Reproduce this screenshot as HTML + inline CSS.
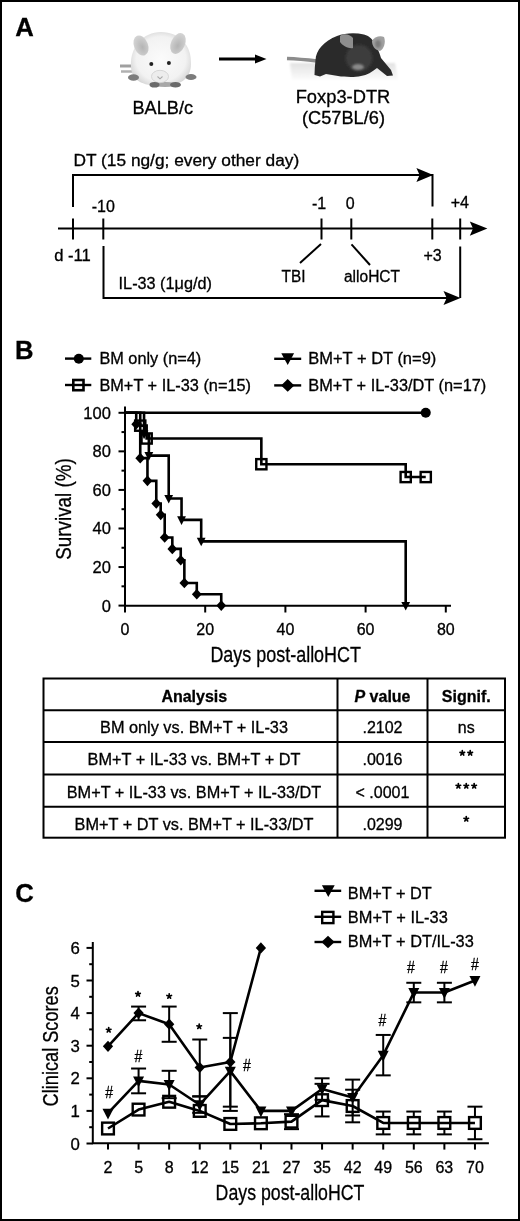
<!DOCTYPE html><html><head><meta charset="utf-8"><style>text{stroke:#000;stroke-width:0.3px;}html,body{margin:0;padding:0;background:#fff;}svg{display:block;filter:grayscale(1);}</style></head><body>
<svg width="520" height="1221" viewBox="0 0 520 1221" font-family='"Liberation Sans", sans-serif' fill="#000" stroke="#000">
<rect x="0" y="0" width="520" height="1221" fill="#fff" stroke="none"/>
<g stroke="none">
</g>
<g stroke-linecap="butt">
<text transform="translate(15.2 35.6) scale(0.97 1)" font-size="26.5" font-weight="bold">A</text>
<defs>
<filter id="bl1" x="-20%" y="-20%" width="140%" height="140%"><feGaussianBlur stdDeviation="1.0"/></filter>
<filter id="bl2" x="-20%" y="-20%" width="140%" height="140%"><feGaussianBlur stdDeviation="0.7"/></filter>
<radialGradient id="wm" cx="0.5" cy="0.5" r="0.55"><stop offset="0" stop-color="#fbfbfb"/><stop offset="0.75" stop-color="#f2f2f2"/><stop offset="1" stop-color="#d6d6d6"/></radialGradient>
<radialGradient id="ear" cx="0.55" cy="0.6" r="0.6"><stop offset="0" stop-color="#b4b4b4"/><stop offset="1" stop-color="#d4d4d4"/></radialGradient>
<linearGradient id="gnd" x1="0" y1="0" x2="0" y2="1"><stop offset="0" stop-color="#e2e2e2"/><stop offset="1" stop-color="#fcfcfc"/></linearGradient>
</defs>
<g stroke="none" filter="url(#bl2)">
<path d="M120,66 L133,66" stroke="#a0a0a0" stroke-width="3"/>
<path d="M121,71.5 L133,71.5" stroke="#b0b0b0" stroke-width="2.5"/>
<path d="M131,66 C130,47 143,32 161,32 C180,32 192,46 191,64 C191,79 180,86 161,86 C142,86 131,80 131,66 Z" fill="url(#wm)"/>
<ellipse cx="141" cy="45.5" rx="7" ry="10.5" transform="rotate(-22 141 45.5)" fill="url(#ear)"/>
<ellipse cx="178" cy="43.5" rx="7" ry="11" transform="rotate(24 178 43.5)" fill="url(#ear)"/>
<ellipse cx="165" cy="84.5" rx="13" ry="2.6" fill="#a8a8a8"/>
<ellipse cx="160" cy="76.5" rx="8.5" ry="6.2" fill="#ededed" stroke="#cfcfcf" stroke-width="0.8"/>
<path d="M157.5,76.5 L160,78.8 L162.5,76.5" stroke="#aaa" stroke-width="1.1" fill="none"/>
<circle cx="151.3" cy="64" r="2" fill="#222"/>
<circle cx="168.9" cy="63" r="2" fill="#222"/>
<ellipse cx="133.5" cy="77.5" rx="5.5" ry="3.3" fill="#7c7c7c"/>
<ellipse cx="191" cy="77" rx="5.5" ry="3" fill="#7c7c7c"/>
<ellipse cx="154.5" cy="84.8" rx="5" ry="2.8" fill="#6a6a6a"/>
<ellipse cx="175.5" cy="84.8" rx="5.5" ry="2.8" fill="#6a6a6a"/>
</g>
<path d="M219,59 L257,59" stroke-width="3"/>
<path d="M266.5,59 L255,54.5 L255,63.5 Z" fill="#000" stroke="none"/>
<g stroke="none" filter="url(#bl2)">
<path d="M290,63 L395,63 L398,80 L292,80 Z" fill="url(#gnd)" filter="url(#bl1)"/>
<path d="M287,58.5 Q300,59 317,61" stroke="#8c8c8c" stroke-width="3.4" fill="none"/>
<path d="M315.5,60 C316,50 324,41 337,36 C345,33 355,32.5 364,34.5 C370,36 373,40 376,46 C379,51 380,55 381,58 L391,70 L393,75.5 L387,76 L377,68 C372,72 367,75 361,76 C354,77.5 345,77 338,76 L326,74 L320,76.5 L314.5,75 C314.5,70 315,65 315.5,60 Z" fill="#2c2c2c"/>
<ellipse cx="359" cy="58" rx="13" ry="13" fill="#3d3d3d" filter="url(#bl1)"/>
<ellipse cx="358" cy="67" rx="6" ry="3" fill="#8a8a8a" filter="url(#bl1)"/>
<path d="M340,36 C343,33 350,34 353,38 L353,48 C349,49 343,46 340,42 Z" fill="#8e8e8e"/>
<path d="M372,41 C374,37 380,35 384,37 C386,42 384,49 380,51 C375,50 372,46 372,41 Z" fill="#a0a0a0"/>
<ellipse cx="378" cy="44" rx="3" ry="4" fill="#7a7a7a" filter="url(#bl1)"/>
</g>
<text x="132.5" y="113.8" font-size="18" textLength="60.6" lengthAdjust="spacingAndGlyphs">BALB/c</text>
<text x="295.7" y="103.1" font-size="18" textLength="94.6" lengthAdjust="spacingAndGlyphs">Foxp3-DTR</text>
<text x="302" y="123.9" font-size="18" textLength="83" lengthAdjust="spacingAndGlyphs">(C57BL/6)</text>
<text x="73.5" y="165.8" font-size="16" textLength="225.7" lengthAdjust="spacingAndGlyphs">DT (15 ng/g; every other day)</text>
<path d="M73,207 V175 H432.5 V206.5" stroke-width="2" fill="none"/>
<path d="M433.2,175 L416.4,168.0 L419.59999999999997,175 L416.4,182.0 Z" fill="#000" stroke="none"/>
<path d="M58,228.6 H478" stroke-width="2" fill="none"/>
<path d="M487.4,228.6 L469.79999999999995,221.5 L472.99999999999994,228.6 L469.79999999999995,235.7 Z" fill="#000" stroke="none"/>
<line x1="73" y1="218.5" x2="73" y2="239.5" stroke-width="2"/>
<line x1="103.3" y1="218.5" x2="103.3" y2="239.5" stroke-width="2"/>
<line x1="321.5" y1="218.5" x2="321.5" y2="239.5" stroke-width="2"/>
<line x1="351.3" y1="218.5" x2="351.3" y2="239.5" stroke-width="2"/>
<line x1="432.3" y1="218.5" x2="432.3" y2="239.5" stroke-width="2"/>
<line x1="460.2" y1="218.5" x2="460.2" y2="239.5" stroke-width="2"/>
<text x="103.3" y="211.5" font-size="16" text-anchor="middle">-10</text>
<text x="319" y="208.5" font-size="16" text-anchor="middle">-1</text>
<text x="350.2" y="208.5" font-size="16" text-anchor="middle">0</text>
<text x="459.8" y="207.6" font-size="16" text-anchor="middle">+4</text>
<text x="54.2" y="261.3" font-size="16" textLength="36.6" lengthAdjust="spacingAndGlyphs">d -11</text>
<text x="432.5" y="261.2" font-size="16" text-anchor="middle">+3</text>
<line x1="321" y1="244" x2="300" y2="263" stroke-width="2"/>
<line x1="351.5" y1="244.4" x2="370" y2="265" stroke-width="2"/>
<text x="281.5" y="282.3" font-size="16" textLength="23.9" lengthAdjust="spacingAndGlyphs">TBI</text>
<text x="344" y="282" font-size="16" textLength="56" lengthAdjust="spacingAndGlyphs">alloHCT</text>
<path d="M103.5,246 V298 H452" stroke-width="2" fill="none"/>
<line x1="460.2" y1="246.5" x2="460.2" y2="298" stroke-width="2"/>
<path d="M460.5,298 L443.5,291 L446.7,298 L443.5,305 Z" fill="#000" stroke="none"/>
<text x="118.6" y="288.7" font-size="16" textLength="93.3" lengthAdjust="spacingAndGlyphs">IL-33 (1&#956;g/d)</text>
<text transform="translate(15.1 358.8) scale(0.97 1)" font-size="26.5" font-weight="bold">B</text>
<line x1="65" y1="358.6" x2="91.3" y2="358.6" stroke-width="2.4"/>
<circle cx="78.80" cy="358.80" r="5.00" fill="#000" stroke="none"/>
<text x="99.4" y="364.2" font-size="16" textLength="101.8" lengthAdjust="spacingAndGlyphs">BM only (n=4)</text>
<line x1="65" y1="385" x2="91.3" y2="385" stroke-width="2.4"/>
<rect x="73.30" y="380.00" width="10.20" height="10.20" fill="none" stroke-width="2.6"/>
<text x="99.4" y="390.5" font-size="16" textLength="151.6" lengthAdjust="spacingAndGlyphs">BM+T + IL-33 (n=15)</text>
<line x1="274.2" y1="358.8" x2="301.2" y2="358.8" stroke-width="2.4"/>
<path d="M281.30,353.20 L294.10,353.20 L287.70,365.00 Z" fill="#000" stroke="none"/>
<text x="308.3" y="364.2" font-size="16.2" textLength="128" lengthAdjust="spacingAndGlyphs">BM+T + DT (n=9)</text>
<line x1="274.2" y1="385.4" x2="301.2" y2="385.4" stroke-width="2.4"/>
<path d="M287.70,379.10 L294.30,385.40 L287.70,391.70 L281.10,385.40 Z" fill="#000" stroke="none"/>
<text x="308.3" y="390.5" font-size="16.2" textLength="178" lengthAdjust="spacingAndGlyphs">BM+T + IL-33/DT (n=17)</text>
<path d="M125,406.5 V605.7 H451" stroke-width="2" fill="none"/>
<line x1="118.5" y1="605.6" x2="125" y2="605.6" stroke-width="2"/>
<text x="110.9" y="611.5" font-size="16.5" text-anchor="end">0</text>
<line x1="118.5" y1="567.04" x2="125" y2="567.04" stroke-width="2"/>
<text x="110.9" y="572.9399999999999" font-size="16.5" text-anchor="end">20</text>
<line x1="118.5" y1="528.48" x2="125" y2="528.48" stroke-width="2"/>
<text x="110.9" y="534.38" font-size="16.5" text-anchor="end">40</text>
<line x1="118.5" y1="489.92" x2="125" y2="489.92" stroke-width="2"/>
<text x="110.9" y="495.82" font-size="16.5" text-anchor="end">60</text>
<line x1="118.5" y1="451.36" x2="125" y2="451.36" stroke-width="2"/>
<text x="110.9" y="457.26" font-size="16.5" text-anchor="end">80</text>
<line x1="118.5" y1="412.80000000000007" x2="125" y2="412.80000000000007" stroke-width="2"/>
<text x="110.9" y="418.70000000000005" font-size="16.5" text-anchor="end">100</text>
<line x1="121.5" y1="586.32" x2="125" y2="586.32" stroke-width="2"/>
<line x1="121.5" y1="547.76" x2="125" y2="547.76" stroke-width="2"/>
<line x1="121.5" y1="509.20000000000005" x2="125" y2="509.20000000000005" stroke-width="2"/>
<line x1="121.5" y1="470.64" x2="125" y2="470.64" stroke-width="2"/>
<line x1="121.5" y1="432.08000000000004" x2="125" y2="432.08000000000004" stroke-width="2"/>
<line x1="125.0" y1="605.7" x2="125.0" y2="612.5" stroke-width="2"/>
<text x="125.0" y="634.5" font-size="16" text-anchor="middle">0</text>
<line x1="205.2" y1="605.7" x2="205.2" y2="612.5" stroke-width="2"/>
<text x="205.2" y="634.5" font-size="16" text-anchor="middle">20</text>
<line x1="285.4" y1="605.7" x2="285.4" y2="612.5" stroke-width="2"/>
<text x="285.4" y="634.5" font-size="16" text-anchor="middle">40</text>
<line x1="365.6" y1="605.7" x2="365.6" y2="612.5" stroke-width="2"/>
<text x="365.6" y="634.5" font-size="16" text-anchor="middle">60</text>
<line x1="445.79999999999995" y1="605.7" x2="445.79999999999995" y2="612.5" stroke-width="2"/>
<text x="445.79999999999995" y="634.5" font-size="16" text-anchor="middle">80</text>
<text x="70.8" y="509.2" font-size="22.5" text-anchor="middle" textLength="101.5" lengthAdjust="spacingAndGlyphs" transform="rotate(-90 70.6 509.2)">Survival (%)</text>
<text x="285.7" y="661.8" font-size="22.5" text-anchor="middle" textLength="150.6" lengthAdjust="spacingAndGlyphs">Days post-alloHCT</text>
<path d="M125.00,412.80 H425.75 V412.80" stroke-width="2.6" fill="none" stroke-linejoin="miter"/>
<circle cx="425.75" cy="412.80" r="5.00" fill="#000" stroke="none"/>
<path d="M125.00,412.80 H140.24 V425.66 H146.65 V438.50 H261.34 V464.22 H405.70 V477.06 H425.75" stroke-width="2.6" fill="none" stroke-linejoin="miter"/>
<rect x="135.14" y="420.56" width="10.20" height="10.20" fill="none" stroke-width="2.4"/>
<rect x="141.55" y="433.40" width="10.20" height="10.20" fill="none" stroke-width="2.4"/>
<rect x="256.24" y="459.12" width="10.20" height="10.20" fill="none" stroke-width="2.4"/>
<rect x="400.60" y="471.96" width="10.20" height="10.20" fill="none" stroke-width="2.4"/>
<rect x="420.65" y="471.96" width="10.20" height="10.20" fill="none" stroke-width="2.4"/>
<path d="M125.00,412.80 H144.05 V434.22 H148.86 V455.64 H168.71 V498.48 H181.54 V519.92 H201.19 V541.34 H405.70 V605.60" stroke-width="2.6" fill="none" stroke-linejoin="miter"/>
<path d="M139.65,430.62 L148.45,430.62 L144.05,439.22 Z" fill="#000" stroke="none"/>
<path d="M144.46,452.04 L153.26,452.04 L148.86,460.64 Z" fill="#000" stroke="none"/>
<path d="M164.31,494.88 L173.11,494.88 L168.71,503.48 Z" fill="#000" stroke="none"/>
<path d="M177.14,516.32 L185.94,516.32 L181.54,524.92 Z" fill="#000" stroke="none"/>
<path d="M196.79,537.74 L205.59,537.74 L201.19,546.34 Z" fill="#000" stroke="none"/>
<path d="M401.30,602.00 L410.10,602.00 L405.70,610.60 Z" fill="#000" stroke="none"/>
<path d="M125.00,412.80 H136.23 V424.14 H140.24 V458.17 H147.46 V480.84 H156.28 V503.53 H160.69 V514.87 H164.70 V537.56 H172.32 V548.90 H180.74 V560.23 H184.35 V582.93 H196.78 V594.26 H221.24 V605.60" stroke-width="2.6" fill="none" stroke-linejoin="miter"/>
<path d="M136.23,418.84 L141.13,424.14 L136.23,429.44 L131.33,424.14 Z" fill="#000" stroke="none"/>
<path d="M140.24,452.87 L145.14,458.17 L140.24,463.47 L135.34,458.17 Z" fill="#000" stroke="none"/>
<path d="M147.46,475.54 L152.36,480.84 L147.46,486.14 L142.56,480.84 Z" fill="#000" stroke="none"/>
<path d="M156.28,498.23 L161.18,503.53 L156.28,508.83 L151.38,503.53 Z" fill="#000" stroke="none"/>
<path d="M160.69,509.57 L165.59,514.87 L160.69,520.17 L155.79,514.87 Z" fill="#000" stroke="none"/>
<path d="M164.70,532.26 L169.60,537.56 L164.70,542.86 L159.80,537.56 Z" fill="#000" stroke="none"/>
<path d="M172.32,543.60 L177.22,548.90 L172.32,554.20 L167.42,548.90 Z" fill="#000" stroke="none"/>
<path d="M180.74,554.93 L185.64,560.23 L180.74,565.53 L175.84,560.23 Z" fill="#000" stroke="none"/>
<path d="M184.35,577.63 L189.25,582.93 L184.35,588.23 L179.45,582.93 Z" fill="#000" stroke="none"/>
<path d="M196.78,588.96 L201.68,594.26 L196.78,599.56 L191.88,594.26 Z" fill="#000" stroke="none"/>
<path d="M221.24,600.30 L226.14,605.60 L221.24,610.90 L216.34,605.60 Z" fill="#000" stroke="none"/>
<rect x="43.5" y="678.5" width="461.5" height="159.20000000000005" fill="none" stroke-width="2"/>
<line x1="43.5" y1="710.3" x2="505" y2="710.3" stroke-width="2"/>
<line x1="43.5" y1="742" x2="505" y2="742" stroke-width="2"/>
<line x1="43.5" y1="774.6" x2="505" y2="774.6" stroke-width="2"/>
<line x1="43.5" y1="806.7" x2="505" y2="806.7" stroke-width="2"/>
<line x1="337.5" y1="678.5" x2="337.5" y2="837.7" stroke-width="2"/>
<line x1="427.5" y1="678.5" x2="427.5" y2="837.7" stroke-width="2"/>
<text x="194.3" y="701.7" font-size="16" text-anchor="middle" font-weight="bold">Analysis</text>
<text x="382.5" y="701.7" font-size="16" text-anchor="middle" font-weight="bold"><tspan font-style="italic">P</tspan> value</text>
<text x="466.25" y="701.7" font-size="16" text-anchor="middle" font-weight="bold">Signif.</text>
<text x="194" y="733.3" font-size="16.3" text-anchor="middle">BM only vs. BM+T + IL-33</text>
<text x="382.5" y="733.3" font-size="16" text-anchor="middle">.2102</text>
<text x="466.25" y="733.3" font-size="16" text-anchor="middle">ns</text>
<text x="194" y="765" font-size="16.3" text-anchor="middle">BM+T + IL-33 vs. BM+T + DT</text>
<text x="382.5" y="765" font-size="16" text-anchor="middle">.0016</text>
<path d="M462.30,753.10 L462.30,750.70 M462.30,753.10 L464.58,752.36 M462.30,753.10 L463.71,755.04 M462.30,753.10 L460.89,755.04 M462.30,753.10 L460.02,752.36 " stroke-width="1.7" stroke-linecap="round" fill="none"/>
<path d="M470.20,753.10 L470.20,750.70 M470.20,753.10 L472.48,752.36 M470.20,753.10 L471.61,755.04 M470.20,753.10 L468.79,755.04 M470.20,753.10 L467.92,752.36 " stroke-width="1.7" stroke-linecap="round" fill="none"/>
<text x="194" y="797.6" font-size="16.3" text-anchor="middle">BM+T + IL-33 vs. BM+T + IL-33/DT</text>
<text x="382.5" y="797.6" font-size="16" text-anchor="middle">&lt; .0001</text>
<path d="M458.35,786.00 L458.35,783.60 M458.35,786.00 L460.63,785.26 M458.35,786.00 L459.76,787.94 M458.35,786.00 L456.94,787.94 M458.35,786.00 L456.07,785.26 " stroke-width="1.7" stroke-linecap="round" fill="none"/>
<path d="M466.25,786.00 L466.25,783.60 M466.25,786.00 L468.53,785.26 M466.25,786.00 L467.66,787.94 M466.25,786.00 L464.84,787.94 M466.25,786.00 L463.97,785.26 " stroke-width="1.7" stroke-linecap="round" fill="none"/>
<path d="M474.15,786.00 L474.15,783.60 M474.15,786.00 L476.43,785.26 M474.15,786.00 L475.56,787.94 M474.15,786.00 L472.74,787.94 M474.15,786.00 L471.87,785.26 " stroke-width="1.7" stroke-linecap="round" fill="none"/>
<text x="194" y="829.7" font-size="16.3" text-anchor="middle">BM+T + DT vs. BM+T + IL-33/DT</text>
<text x="382.5" y="829.7" font-size="16" text-anchor="middle">.0299</text>
<path d="M466.25,819.00 L466.25,816.60 M466.25,819.00 L468.53,818.26 M466.25,819.00 L467.66,820.94 M466.25,819.00 L464.84,820.94 M466.25,819.00 L463.97,818.26 " stroke-width="1.7" stroke-linecap="round" fill="none"/>
<text transform="translate(15.2 902.2) scale(0.97 1)" font-size="26.5" font-weight="bold">C</text>
<line x1="314.5" y1="890.8" x2="341.2" y2="890.8" stroke-width="2.4"/>
<path d="M321.90,885.20 L334.70,885.20 L328.30,897.00 Z" fill="#000" stroke="none"/>
<text x="347.8" y="898.8" font-size="16" textLength="84" lengthAdjust="spacingAndGlyphs">BM+T + DT</text>
<line x1="314.5" y1="916.8" x2="341.2" y2="916.8" stroke-width="2.4"/>
<rect x="322.19" y="911.89" width="11.22" height="11.22" fill="none" stroke-width="2.4"/>
<text x="347.8" y="922.7" font-size="16" textLength="100" lengthAdjust="spacingAndGlyphs">BM+T + IL-33</text>
<line x1="314.5" y1="942" x2="341.2" y2="942" stroke-width="2.4"/>
<path d="M328.00,935.70 L334.60,942.00 L328.00,948.30 L321.40,942.00 Z" fill="#000" stroke="none"/>
<text x="347.8" y="947.3" font-size="16" textLength="126" lengthAdjust="spacingAndGlyphs">BM+T + DT/IL-33</text>
<path d="M92.8,942 V1143.3 H488.9" stroke-width="2" fill="none"/>
<line x1="86.5" y1="1143.5" x2="92.8" y2="1143.5" stroke-width="2"/>
<text x="79.9" y="1149.5" font-size="16.8" text-anchor="end">0</text>
<line x1="86.5" y1="1110.9" x2="92.8" y2="1110.9" stroke-width="2"/>
<text x="79.9" y="1116.9" font-size="16.8" text-anchor="end">1</text>
<line x1="86.5" y1="1078.3" x2="92.8" y2="1078.3" stroke-width="2"/>
<text x="79.9" y="1084.3" font-size="16.8" text-anchor="end">2</text>
<line x1="86.5" y1="1045.7" x2="92.8" y2="1045.7" stroke-width="2"/>
<text x="79.9" y="1051.7" font-size="16.8" text-anchor="end">3</text>
<line x1="86.5" y1="1013.1" x2="92.8" y2="1013.1" stroke-width="2"/>
<text x="79.9" y="1019.1" font-size="16.8" text-anchor="end">4</text>
<line x1="86.5" y1="980.5" x2="92.8" y2="980.5" stroke-width="2"/>
<text x="79.9" y="986.5" font-size="16.8" text-anchor="end">5</text>
<line x1="86.5" y1="947.9" x2="92.8" y2="947.9" stroke-width="2"/>
<text x="79.9" y="953.9" font-size="16.8" text-anchor="end">6</text>
<line x1="89.2" y1="1127.2" x2="92.8" y2="1127.2" stroke-width="2"/>
<line x1="89.2" y1="1094.6" x2="92.8" y2="1094.6" stroke-width="2"/>
<line x1="89.2" y1="1062.0" x2="92.8" y2="1062.0" stroke-width="2"/>
<line x1="89.2" y1="1029.4" x2="92.8" y2="1029.4" stroke-width="2"/>
<line x1="89.2" y1="996.8" x2="92.8" y2="996.8" stroke-width="2"/>
<line x1="89.2" y1="964.2" x2="92.8" y2="964.2" stroke-width="2"/>
<line x1="108.0" y1="1143.3" x2="108.0" y2="1149.6" stroke-width="2"/>
<text x="108.0" y="1172.8" font-size="16" text-anchor="middle">2</text>
<line x1="138.57999999999998" y1="1143.3" x2="138.57999999999998" y2="1149.6" stroke-width="2"/>
<text x="138.57999999999998" y="1172.8" font-size="16" text-anchor="middle">5</text>
<line x1="169.16" y1="1143.3" x2="169.16" y2="1149.6" stroke-width="2"/>
<text x="169.16" y="1172.8" font-size="16" text-anchor="middle">8</text>
<line x1="199.74" y1="1143.3" x2="199.74" y2="1149.6" stroke-width="2"/>
<text x="199.74" y="1172.8" font-size="16" text-anchor="middle">12</text>
<line x1="230.32" y1="1143.3" x2="230.32" y2="1149.6" stroke-width="2"/>
<text x="230.32" y="1172.8" font-size="16" text-anchor="middle">15</text>
<line x1="260.9" y1="1143.3" x2="260.9" y2="1149.6" stroke-width="2"/>
<text x="260.9" y="1172.8" font-size="16" text-anchor="middle">21</text>
<line x1="291.48" y1="1143.3" x2="291.48" y2="1149.6" stroke-width="2"/>
<text x="291.48" y="1172.8" font-size="16" text-anchor="middle">27</text>
<line x1="322.06" y1="1143.3" x2="322.06" y2="1149.6" stroke-width="2"/>
<text x="322.06" y="1172.8" font-size="16" text-anchor="middle">35</text>
<line x1="352.64" y1="1143.3" x2="352.64" y2="1149.6" stroke-width="2"/>
<text x="352.64" y="1172.8" font-size="16" text-anchor="middle">42</text>
<line x1="383.21999999999997" y1="1143.3" x2="383.21999999999997" y2="1149.6" stroke-width="2"/>
<text x="383.21999999999997" y="1172.8" font-size="16" text-anchor="middle">49</text>
<line x1="413.79999999999995" y1="1143.3" x2="413.79999999999995" y2="1149.6" stroke-width="2"/>
<text x="413.79999999999995" y="1172.8" font-size="16" text-anchor="middle">56</text>
<line x1="444.38" y1="1143.3" x2="444.38" y2="1149.6" stroke-width="2"/>
<text x="444.38" y="1172.8" font-size="16" text-anchor="middle">63</text>
<line x1="474.96" y1="1143.3" x2="474.96" y2="1149.6" stroke-width="2"/>
<text x="474.96" y="1172.8" font-size="16" text-anchor="middle">70</text>
<text x="58.4" y="1046.5" font-size="22.5" text-anchor="middle" textLength="120.2" lengthAdjust="spacingAndGlyphs" transform="rotate(-90 58.2 1046.5)">Clinical Scores</text>
<text x="290" y="1200.2" font-size="22.5" text-anchor="middle" textLength="148.8" lengthAdjust="spacingAndGlyphs">Days post-alloHCT</text>
<line x1="291.48" y1="1115.793" x2="291.48" y2="1114.16" stroke-width="2"/>
<line x1="283.98" y1="1114.16" x2="298.98" y2="1114.16" stroke-width="2"/>
<line x1="291.48" y1="1127.523" x2="291.48" y2="1129.156" stroke-width="2"/>
<line x1="283.98" y1="1129.156" x2="298.98" y2="1129.156" stroke-width="2"/>
<line x1="322.06" y1="1094.277" x2="322.06" y2="1083.842" stroke-width="2"/>
<line x1="314.56" y1="1083.842" x2="329.56" y2="1083.842" stroke-width="2"/>
<line x1="322.06" y1="1106.007" x2="322.06" y2="1116.442" stroke-width="2"/>
<line x1="314.56" y1="1116.442" x2="329.56" y2="1116.442" stroke-width="2"/>
<line x1="352.64" y1="1100.145" x2="352.64" y2="1089.71" stroke-width="2"/>
<line x1="345.14" y1="1089.71" x2="360.14" y2="1089.71" stroke-width="2"/>
<line x1="352.64" y1="1111.875" x2="352.64" y2="1122.31" stroke-width="2"/>
<line x1="345.14" y1="1122.31" x2="360.14" y2="1122.31" stroke-width="2"/>
<line x1="383.21999999999997" y1="1117.097" x2="383.21999999999997" y2="1111.552" stroke-width="2"/>
<line x1="375.71999999999997" y1="1111.552" x2="390.71999999999997" y2="1111.552" stroke-width="2"/>
<line x1="383.21999999999997" y1="1128.827" x2="383.21999999999997" y2="1134.372" stroke-width="2"/>
<line x1="375.71999999999997" y1="1134.372" x2="390.71999999999997" y2="1134.372" stroke-width="2"/>
<line x1="413.79999999999995" y1="1117.097" x2="413.79999999999995" y2="1111.552" stroke-width="2"/>
<line x1="406.29999999999995" y1="1111.552" x2="421.29999999999995" y2="1111.552" stroke-width="2"/>
<line x1="413.79999999999995" y1="1128.827" x2="413.79999999999995" y2="1134.372" stroke-width="2"/>
<line x1="406.29999999999995" y1="1134.372" x2="421.29999999999995" y2="1134.372" stroke-width="2"/>
<line x1="444.38" y1="1117.097" x2="444.38" y2="1111.552" stroke-width="2"/>
<line x1="436.88" y1="1111.552" x2="451.88" y2="1111.552" stroke-width="2"/>
<line x1="444.38" y1="1128.827" x2="444.38" y2="1134.372" stroke-width="2"/>
<line x1="436.88" y1="1134.372" x2="451.88" y2="1134.372" stroke-width="2"/>
<line x1="474.96" y1="1117.097" x2="474.96" y2="1106.662" stroke-width="2"/>
<line x1="467.46" y1="1106.662" x2="482.46" y2="1106.662" stroke-width="2"/>
<line x1="474.96" y1="1128.827" x2="474.96" y2="1139.262" stroke-width="2"/>
<line x1="467.46" y1="1139.262" x2="482.46" y2="1139.262" stroke-width="2"/>
<path d="M108.00,1128.50 L138.58,1109.60 L169.16,1101.77 L199.74,1110.90 L230.32,1123.94 L260.90,1123.29 L291.48,1121.66 L322.06,1100.14 L352.64,1106.01 L383.22,1122.96 L413.80,1122.96 L444.38,1122.96 L474.96,1122.96" stroke-width="2.6" fill="none" stroke-linejoin="round"/>
<rect x="102.14" y="1122.64" width="11.73" height="11.73" fill="none" stroke-width="2.4"/>
<rect x="132.71" y="1103.73" width="11.73" height="11.73" fill="none" stroke-width="2.4"/>
<rect x="163.29" y="1095.91" width="11.73" height="11.73" fill="none" stroke-width="2.4"/>
<rect x="193.88" y="1105.04" width="11.73" height="11.73" fill="none" stroke-width="2.4"/>
<rect x="224.45" y="1118.08" width="11.73" height="11.73" fill="none" stroke-width="2.4"/>
<rect x="255.03" y="1117.42" width="11.73" height="11.73" fill="none" stroke-width="2.4"/>
<rect x="285.62" y="1115.79" width="11.73" height="11.73" fill="none" stroke-width="2.4"/>
<rect x="316.19" y="1094.28" width="11.73" height="11.73" fill="none" stroke-width="2.4"/>
<rect x="346.77" y="1100.14" width="11.73" height="11.73" fill="none" stroke-width="2.4"/>
<rect x="377.35" y="1117.10" width="11.73" height="11.73" fill="none" stroke-width="2.4"/>
<rect x="407.93" y="1117.10" width="11.73" height="11.73" fill="none" stroke-width="2.4"/>
<rect x="438.51" y="1117.10" width="11.73" height="11.73" fill="none" stroke-width="2.4"/>
<rect x="469.09" y="1117.10" width="11.73" height="11.73" fill="none" stroke-width="2.4"/>
<line x1="138.57999999999998" y1="1080.908" x2="138.57999999999998" y2="1068.52" stroke-width="2"/>
<line x1="131.07999999999998" y1="1068.52" x2="146.07999999999998" y2="1068.52" stroke-width="2"/>
<line x1="138.57999999999998" y1="1080.908" x2="138.57999999999998" y2="1093.296" stroke-width="2"/>
<line x1="131.07999999999998" y1="1093.296" x2="146.07999999999998" y2="1093.296" stroke-width="2"/>
<line x1="169.16" y1="1084.494" x2="169.16" y2="1070.802" stroke-width="2"/>
<line x1="161.66" y1="1070.802" x2="176.66" y2="1070.802" stroke-width="2"/>
<line x1="169.16" y1="1084.494" x2="169.16" y2="1098.186" stroke-width="2"/>
<line x1="161.66" y1="1098.186" x2="176.66" y2="1098.186" stroke-width="2"/>
<line x1="199.74" y1="1104.706" x2="199.74" y2="1096.556" stroke-width="2"/>
<line x1="192.24" y1="1096.556" x2="207.24" y2="1096.556" stroke-width="2"/>
<line x1="199.74" y1="1104.706" x2="199.74" y2="1112.856" stroke-width="2"/>
<line x1="192.24" y1="1112.856" x2="207.24" y2="1112.856" stroke-width="2"/>
<line x1="230.32" y1="1071.128" x2="230.32" y2="1037.876" stroke-width="2"/>
<line x1="222.82" y1="1037.876" x2="237.82" y2="1037.876" stroke-width="2"/>
<line x1="230.32" y1="1071.128" x2="230.32" y2="1106.662" stroke-width="2"/>
<line x1="222.82" y1="1106.662" x2="237.82" y2="1106.662" stroke-width="2"/>
<line x1="322.06" y1="1089.058" x2="322.06" y2="1078.3" stroke-width="2"/>
<line x1="314.56" y1="1078.3" x2="329.56" y2="1078.3" stroke-width="2"/>
<line x1="322.06" y1="1089.058" x2="322.06" y2="1099.816" stroke-width="2"/>
<line x1="314.56" y1="1099.816" x2="329.56" y2="1099.816" stroke-width="2"/>
<line x1="352.64" y1="1097.534" x2="352.64" y2="1079.604" stroke-width="2"/>
<line x1="345.14" y1="1079.604" x2="360.14" y2="1079.604" stroke-width="2"/>
<line x1="352.64" y1="1097.534" x2="352.64" y2="1115.464" stroke-width="2"/>
<line x1="345.14" y1="1115.464" x2="360.14" y2="1115.464" stroke-width="2"/>
<line x1="383.21999999999997" y1="1055.154" x2="383.21999999999997" y2="1034.942" stroke-width="2"/>
<line x1="375.71999999999997" y1="1034.942" x2="390.71999999999997" y2="1034.942" stroke-width="2"/>
<line x1="383.21999999999997" y1="1055.154" x2="383.21999999999997" y2="1075.366" stroke-width="2"/>
<line x1="375.71999999999997" y1="1075.366" x2="390.71999999999997" y2="1075.366" stroke-width="2"/>
<line x1="413.79999999999995" y1="992.562" x2="413.79999999999995" y2="982.782" stroke-width="2"/>
<line x1="406.29999999999995" y1="982.782" x2="421.29999999999995" y2="982.782" stroke-width="2"/>
<line x1="413.79999999999995" y1="992.562" x2="413.79999999999995" y2="1002.342" stroke-width="2"/>
<line x1="406.29999999999995" y1="1002.342" x2="421.29999999999995" y2="1002.342" stroke-width="2"/>
<line x1="444.38" y1="992.562" x2="444.38" y2="982.782" stroke-width="2"/>
<line x1="436.88" y1="982.782" x2="451.88" y2="982.782" stroke-width="2"/>
<line x1="444.38" y1="992.562" x2="444.38" y2="1002.342" stroke-width="2"/>
<line x1="436.88" y1="1002.342" x2="451.88" y2="1002.342" stroke-width="2"/>
<path d="M108.00,1113.18 L138.58,1080.91 L169.16,1084.49 L199.74,1104.71 L230.32,1071.13 L260.90,1110.90 L291.48,1110.90 L322.06,1089.06 L352.64,1097.53 L383.22,1055.15 L413.80,992.56 L444.38,992.56 L474.96,980.50" stroke-width="2.6" fill="none" stroke-linejoin="round"/>
<path d="M102.50,1108.68 L113.50,1108.68 L108.00,1119.43 Z" fill="#000" stroke="none"/>
<path d="M133.08,1076.41 L144.08,1076.41 L138.58,1087.16 Z" fill="#000" stroke="none"/>
<path d="M163.66,1079.99 L174.66,1079.99 L169.16,1090.74 Z" fill="#000" stroke="none"/>
<path d="M194.24,1100.21 L205.24,1100.21 L199.74,1110.96 Z" fill="#000" stroke="none"/>
<path d="M224.82,1066.63 L235.82,1066.63 L230.32,1077.38 Z" fill="#000" stroke="none"/>
<path d="M255.40,1106.40 L266.40,1106.40 L260.90,1117.15 Z" fill="#000" stroke="none"/>
<path d="M285.98,1106.40 L296.98,1106.40 L291.48,1117.15 Z" fill="#000" stroke="none"/>
<path d="M316.56,1084.56 L327.56,1084.56 L322.06,1095.31 Z" fill="#000" stroke="none"/>
<path d="M347.14,1093.03 L358.14,1093.03 L352.64,1103.78 Z" fill="#000" stroke="none"/>
<path d="M377.72,1050.65 L388.72,1050.65 L383.22,1061.40 Z" fill="#000" stroke="none"/>
<path d="M408.30,988.06 L419.30,988.06 L413.80,998.81 Z" fill="#000" stroke="none"/>
<path d="M438.88,988.06 L449.88,988.06 L444.38,998.81 Z" fill="#000" stroke="none"/>
<path d="M469.46,976.00 L480.46,976.00 L474.96,986.75 Z" fill="#000" stroke="none"/>
<line x1="138.57999999999998" y1="1013.1" x2="138.57999999999998" y2="1006.5799999999999" stroke-width="2"/>
<line x1="131.07999999999998" y1="1006.5799999999999" x2="146.07999999999998" y2="1006.5799999999999" stroke-width="2"/>
<line x1="138.57999999999998" y1="1013.1" x2="138.57999999999998" y2="1020.272" stroke-width="2"/>
<line x1="131.07999999999998" y1="1020.272" x2="146.07999999999998" y2="1020.272" stroke-width="2"/>
<line x1="169.16" y1="1024.184" x2="169.16" y2="1006.5799999999999" stroke-width="2"/>
<line x1="161.66" y1="1006.5799999999999" x2="176.66" y2="1006.5799999999999" stroke-width="2"/>
<line x1="169.16" y1="1024.184" x2="169.16" y2="1041.788" stroke-width="2"/>
<line x1="161.66" y1="1041.788" x2="176.66" y2="1041.788" stroke-width="2"/>
<line x1="199.74" y1="1067.542" x2="199.74" y2="1039.506" stroke-width="2"/>
<line x1="192.24" y1="1039.506" x2="207.24" y2="1039.506" stroke-width="2"/>
<line x1="199.74" y1="1067.542" x2="199.74" y2="1096.23" stroke-width="2"/>
<line x1="192.24" y1="1096.23" x2="207.24" y2="1096.23" stroke-width="2"/>
<line x1="230.32" y1="1062.0" x2="230.32" y2="1013.1" stroke-width="2"/>
<line x1="222.82" y1="1013.1" x2="237.82" y2="1013.1" stroke-width="2"/>
<line x1="230.32" y1="1062.0" x2="230.32" y2="1110.9" stroke-width="2"/>
<line x1="222.82" y1="1110.9" x2="237.82" y2="1110.9" stroke-width="2"/>
<path d="M108.00,1046.35 L138.58,1013.10 L169.16,1024.18 L199.74,1067.54 L230.32,1062.00 L260.90,947.90" stroke-width="2.6" fill="none" stroke-linejoin="round"/>
<path d="M108.00,1040.79 L113.14,1046.35 L108.00,1051.92 L102.86,1046.35 Z" fill="#000" stroke="none"/>
<path d="M138.58,1007.53 L143.72,1013.10 L138.58,1018.67 L133.43,1013.10 Z" fill="#000" stroke="none"/>
<path d="M169.16,1018.62 L174.31,1024.18 L169.16,1029.75 L164.01,1024.18 Z" fill="#000" stroke="none"/>
<path d="M199.74,1061.98 L204.89,1067.54 L199.74,1073.11 L194.59,1067.54 Z" fill="#000" stroke="none"/>
<path d="M230.32,1056.43 L235.47,1062.00 L230.32,1067.57 L225.17,1062.00 Z" fill="#000" stroke="none"/>
<path d="M260.90,942.33 L266.04,947.90 L260.90,953.47 L255.75,947.90 Z" fill="#000" stroke="none"/>
<path d="M108.70,1030.00 L108.70,1027.60 M108.70,1030.00 L110.98,1029.26 M108.70,1030.00 L110.11,1031.94 M108.70,1030.00 L107.29,1031.94 M108.70,1030.00 L106.42,1029.26 " stroke-width="1.7" stroke-linecap="round" fill="none"/>
<path d="M138.00,994.10 L138.00,991.70 M138.00,994.10 L140.28,993.36 M138.00,994.10 L139.41,996.04 M138.00,994.10 L136.59,996.04 M138.00,994.10 L135.72,993.36 " stroke-width="1.7" stroke-linecap="round" fill="none"/>
<path d="M169.20,996.20 L169.20,993.80 M169.20,996.20 L171.48,995.46 M169.20,996.20 L170.61,998.14 M169.20,996.20 L167.79,998.14 M169.20,996.20 L166.92,995.46 " stroke-width="1.7" stroke-linecap="round" fill="none"/>
<path d="M199.20,1026.50 L199.20,1024.10 M199.20,1026.50 L201.48,1025.76 M199.20,1026.50 L200.61,1028.44 M199.20,1026.50 L197.79,1028.44 M199.20,1026.50 L196.92,1025.76 " stroke-width="1.7" stroke-linecap="round" fill="none"/>
<text transform="translate(109.2 1098.3) scale(0.88 1)" font-size="16" text-anchor="middle">#</text>
<text transform="translate(138.5 1062) scale(0.88 1)" font-size="16" text-anchor="middle">#</text>
<text transform="translate(247 1071.2) scale(0.88 1)" font-size="16" text-anchor="middle">#</text>
<text transform="translate(382.5 1026) scale(0.88 1)" font-size="16" text-anchor="middle">#</text>
<text transform="translate(411 972.5) scale(0.88 1)" font-size="16" text-anchor="middle">#</text>
<text transform="translate(444 972.5) scale(0.88 1)" font-size="16" text-anchor="middle">#</text>
<text transform="translate(475 969.5) scale(0.88 1)" font-size="16" text-anchor="middle">#</text>
</g>
<rect x="1" y="1" width="518" height="1219" fill="none" stroke-width="2"/>
</svg></body></html>
